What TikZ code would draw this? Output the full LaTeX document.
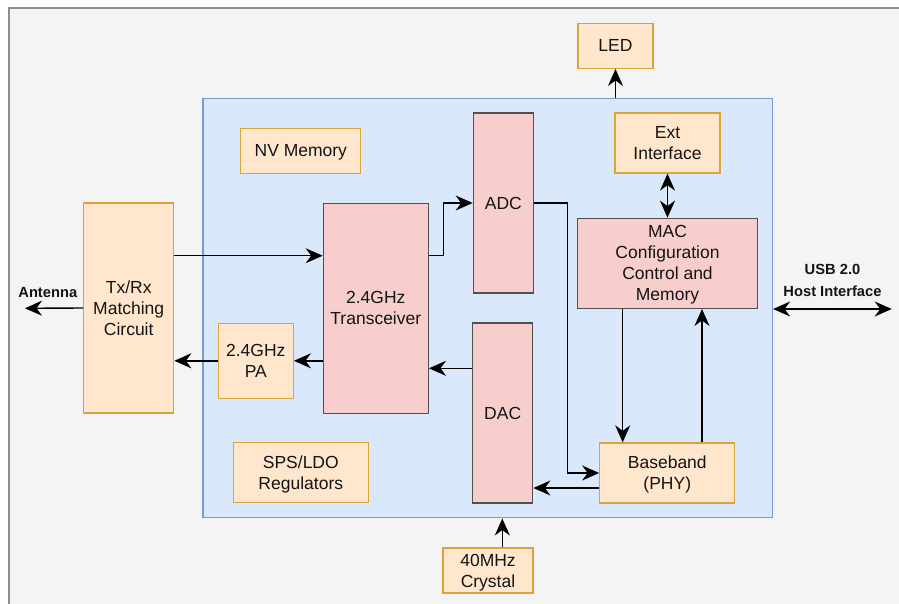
\documentclass[tikz,border=0pt]{standalone}
\usepackage{fontspec}
\setmainfont{Liberation Sans}
\usetikzlibrary{arrows.meta}
\definecolor{pagebg}{HTML}{F4F4F4}
\definecolor{framegray}{HTML}{8C8C8C}
\definecolor{chipfill}{HTML}{DAE8FC}
\definecolor{chipline}{HTML}{7C9CC8}
\definecolor{extfill}{HTML}{FFE6CC}
\definecolor{extline}{HTML}{DBA43A}
\definecolor{corefill}{HTML}{F8CECC}
\definecolor{coreline}{HTML}{505050}
\definecolor{ink}{HTML}{141414}

\begin{document}
\begin{tikzpicture}[x=1pt,y=-1pt,
  blk/.style={draw, line width=1.3pt, inner sep=0pt, align=center, text depth=0pt,
    font=\fontsize{17.5}{21}\selectfont, text=ink},
  obox/.style={blk, fill=extfill, draw=extline},
  pbox/.style={blk, fill=corefill, draw=coreline},
  wire/.style={draw=black, line width=1.4pt,
    -{Stealth[length=17pt,width=15pt,inset=5.5pt]}},
  dwire/.style={draw=black, line width=1.4pt,
    {Stealth[length=17pt,width=15pt,inset=5.5pt]}-{Stealth[length=17pt,width=15pt,inset=5.5pt]}},
  lbl/.style={font=\bfseries\fontsize{14.7}{17}\selectfont, text=ink, inner sep=0pt, text depth=0pt}
]
\useasboundingbox (0,0) rectangle (899,604);
% sheet background and frame
\fill[pagebg] (9,8) rectangle (899,604);
\draw[framegray, line width=1.3pt] (899,8) -- (9,8) -- (9,604);

% chip outline
\node[draw=chipline, fill=chipfill, line width=1.2pt, inner sep=0pt,
      minimum width=569.5pt, minimum height=419.7pt] (chip) at (487.75,308) {};

% blocks
\node[obox, minimum width=75pt, minimum height=45pt] (led) at (615.5,45.8) {LED};
\node[obox, minimum width=120pt, minimum height=45pt] (nvm) at (300.8,150.7) {NV Memory};
\node[obox, minimum width=105pt, minimum height=60pt] (ext) at (667.5,143) {Ext\\Interface};
\node[pbox, minimum width=60pt, minimum height=180pt] (adc) at (503.3,203) {ADC};
\node[pbox, minimum width=180pt, minimum height=90pt] (mac) at (667.5,263.3) {MAC\\Configuration\\Control and\\Memory};
\node[obox, minimum width=90pt, minimum height=210pt] (txrx) at (128.7,308) {Tx/Rx\\Matching\\Circuit};
\node[pbox, minimum width=105pt, minimum height=210pt] (trx) at (375.8,308.3) {2.4GHz\\Transceiver};
\node[obox, minimum width=75pt, minimum height=75pt] (pa) at (255.8,360.8) {2.4GHz\\PA};
\node[pbox, minimum width=60pt, minimum height=180pt] (dac) at (502.7,413) {DAC};
\node[obox, minimum width=135pt, minimum height=60pt] (sps) at (300.8,472.8) {SPS/LDO\\Regulators};
\node[obox, minimum width=135pt, minimum height=60pt] (bb) at (667.3,473) {Baseband\\(PHY)};
\node[obox, minimum width=90pt, minimum height=45pt] (xtal) at (488,570.5) {40MHz\\Crystal};

% external labels
\node[lbl] (antlbl) at (47.8,292) {Antenna};
\node[lbl] (usblbl) at (832.5,269) {USB 2.0};
\node[lbl] (hostlbl) at (832.5,291) {Host Interface};

% helper levels
\coordinate (yrx) at (0,255.7);
\coordinate (ydac) at (0,368.3);
\coordinate (ybb) at (0,488);
\coordinate (xmac) at (622.7,0);
\coordinate (xbb) at (702,0);
\coordinate (xclk) at (502.3,0);
\coordinate (antend) at (25,308.3);
\coordinate (usbend) at (891.7,309);

% connectors
\draw[wire] (chip.north -| led) -- (led.south);
\draw[dwire] (ext.south) -- (mac.north);
\draw[wire] (txrx.east |- yrx) -- (trx.west |- yrx);
\draw[wire] (trx.east |- yrx) -- ++(14.4,0) |- (adc.west);
\draw[wire] (adc.east) -- ++(33.4,0) |- (bb.west);
\draw[wire] (bb.west |- ybb) -- (dac.east |- ybb);
\draw[wire] (dac.west |- ydac) -- (trx.east |- ydac);
\draw[wire] (trx.west |- pa.east) -- (pa.east);
\draw[wire] (pa.west) -- (txrx.east |- pa.west);
\draw[wire] (txrx.west) -- (antend);
\draw[wire] (mac.south -| xmac) -- (bb.north -| xmac);
\draw[wire] (bb.north -| xbb) -- (mac.south -| xbb);
\draw[wire] (xtal.north -| xclk) -- (chip.south -| xclk);
\draw[dwire] (chip.east |- usbend) -- (usbend);
\end{tikzpicture}
\end{document}
